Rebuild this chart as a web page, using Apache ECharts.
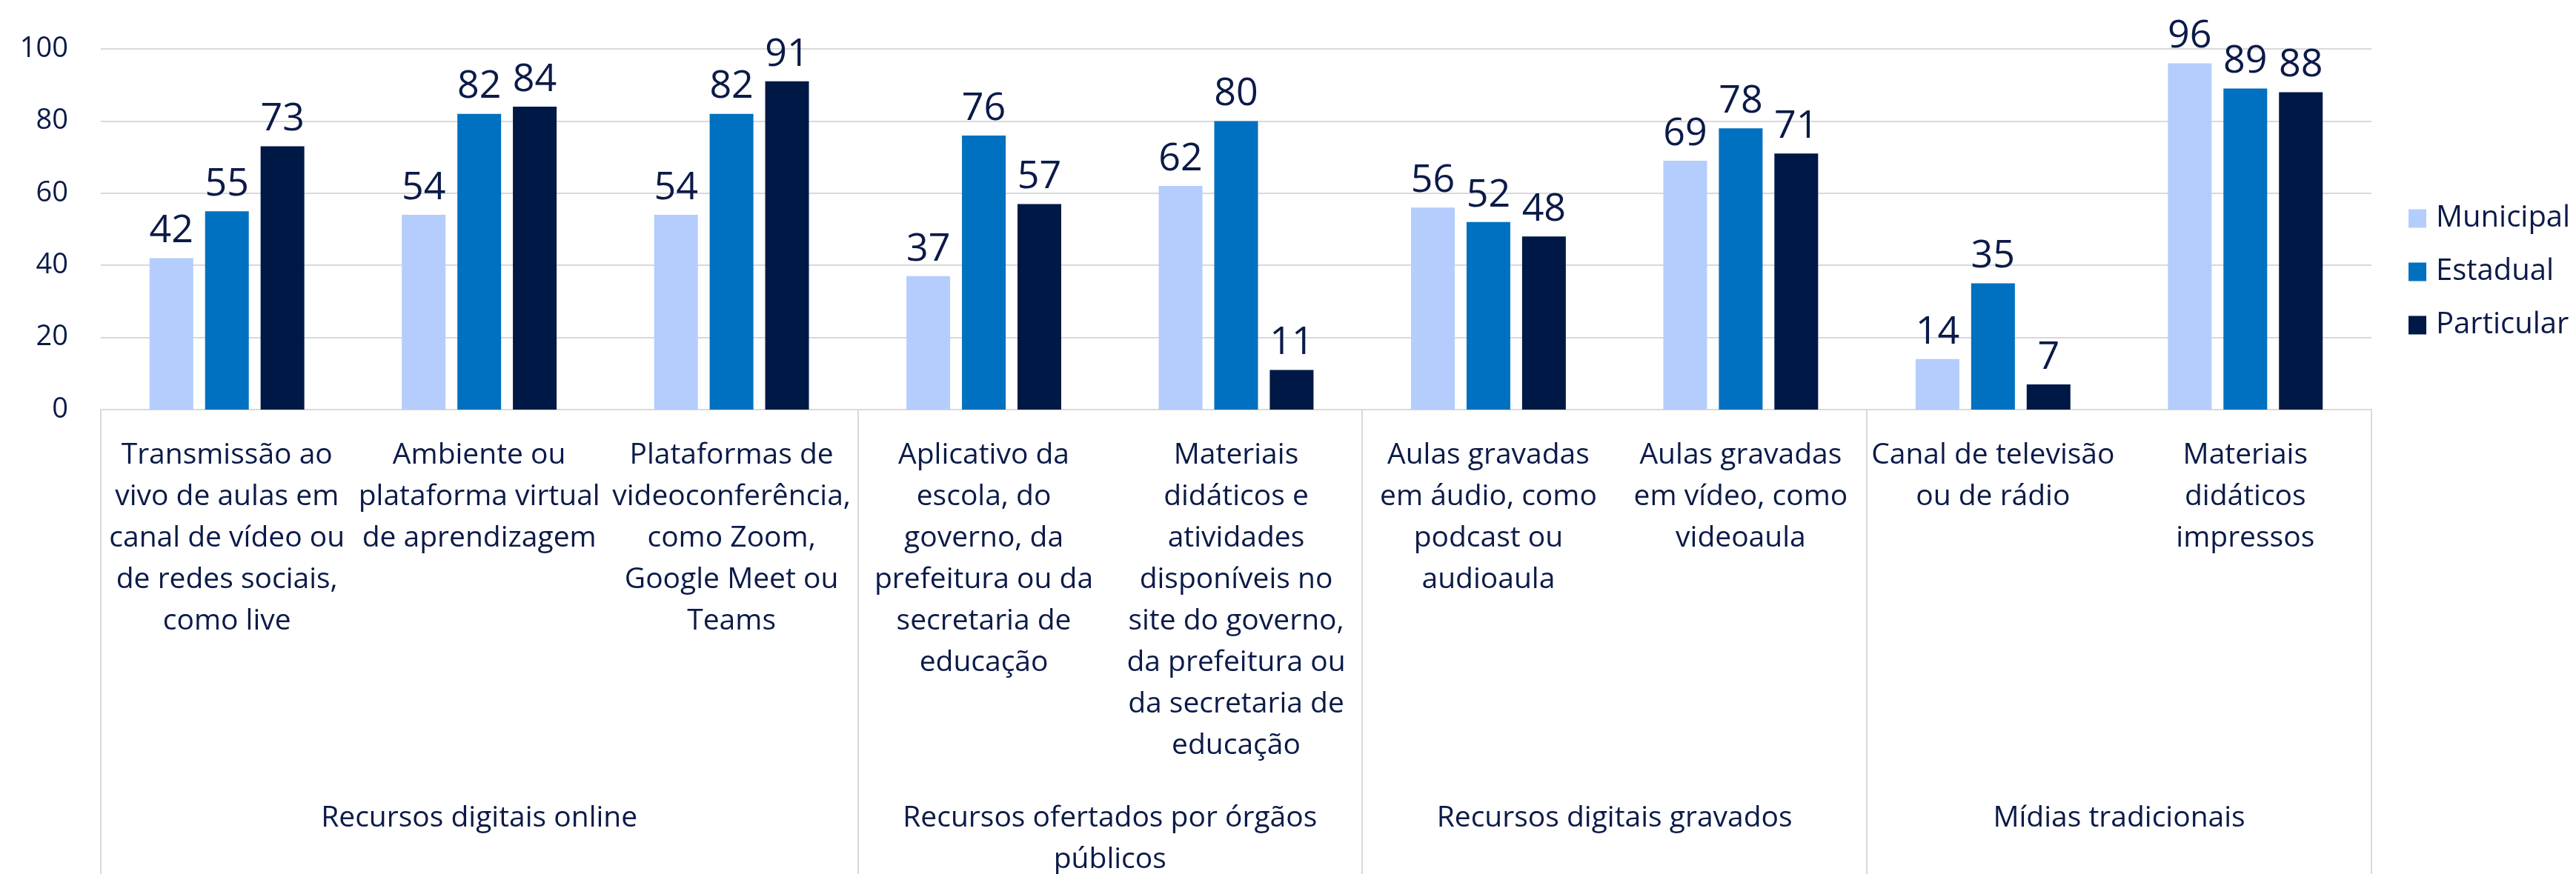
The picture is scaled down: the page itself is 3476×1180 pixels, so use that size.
<!DOCTYPE html>
<html>
<head>
<meta charset="utf-8">
<script src="https://cdn.jsdelivr.net/npm/echarts@6/dist/echarts.min.js"></script>
<style>
  html, body { margin: 0; padding: 0; background: #fff; }
  #chart { width: 3476px; height: 1180px; }
</style>
</head>
<body>
<div id="chart"></div>
<script>
// categorias (nível 1) e grupos (nível 2)
const categories = [
  "Transmissão ao\nvivo de aulas em\ncanal de vídeo ou\nde redes sociais,\ncomo live",
  "Ambiente ou\nplataforma virtual\nde aprendizagem",
  "Plataformas de\nvideoconferência,\ncomo Zoom,\nGoogle Meet ou\nTeams",
  "Aplicativo da\nescola, do\ngoverno, da\nprefeitura ou da\nsecretaria de\neducação",
  "Materiais\ndidáticos e\natividades\ndisponíveis no\nsite do governo,\nda prefeitura ou\nda secretaria de\neducação",
  "Aulas gravadas\nem áudio, como\npodcast ou\naudioaula",
  "Aulas gravadas\nem vídeo, como\nvideoaula",
  "Canal de televisão\nou de rádio",
  "Materiais\ndidáticos\nimpressos"
];
const groupNames = [
  "Recursos digitais online",
  "Recursos ofertados por órgãos\npúblicos",
  "Recursos digitais gravados",
  "Mídias tradicionais"
];
const groupSizes = [3, 2, 2, 2];

const municipal  = [42, 54, 54, 37, 62, 56, 69, 14, 96];
const estadual   = [55, 82, 82, 76, 80, 52, 78, 35, 89];
const particular = [73, 84, 91, 57, 11, 48, 71, 7, 88];

const yTicks = [0, 20, 40, 60, 80, 100];

// limites e centros dos grupos no eixo auxiliar (0..9)
const groupEdges = [0];
groupSizes.forEach(s => groupEdges.push(groupEdges[groupEdges.length - 1] + s));
const groupCenters = groupSizes.map((s, i) => groupEdges[i] + s / 2);

const textColor = "#0b1a48";
const gridColor = "#d9d9d9";
const font = "'Open Sans', 'Noto Sans', sans-serif";

const makeSeries = (name, data, color) => ({
  name: name,
  type: "bar",
  data: data,
  barWidth: 59,
  barGap: "27%",
  itemStyle: { color: color },
  label: {
    show: true,
    position: "top",
    distance: 10,
    color: textColor,
    fontSize: 52,
    fontFamily: font
  }
});

const chart = echarts.init(document.getElementById("chart"), null, { renderer: "canvas" });
chart.setOption({
  backgroundColor: "#ffffff",
  animation: false,
  textStyle: { fontFamily: font },
  grid: { left: 136, right: 276, top: 66, bottom: 627, outerBoundsMode: "none", containLabel: false },
  legend: {
    orient: "vertical",
    left: 3245,
    top: 270,
    itemWidth: 24,
    itemHeight: 25,
    itemGap: 32,
    icon: "rect",
    textStyle: { color: textColor, fontSize: 40, fontFamily: font, lineHeight: 40, padding: [0, 0, 0, 8] },
    data: ["Municipal", "Estadual", "Particular"]
  },
  xAxis: [
    {
      type: "category",
      data: categories,
      axisLine: { show: true, lineStyle: { color: gridColor, width: 2 } },
      axisTick: { show: false },
      axisLabel: {
        interval: 0,
        margin: 34,
        color: textColor,
        fontSize: 39,
        lineHeight: 56,
        verticalAlign: "top",
        fontFamily: font
      }
    },
    {
      type: "value",
      min: 0,
      max: 9,
      position: "bottom",
      axisLine: { show: false },
      splitLine: { show: false },
      axisTick: {
        show: true,
        customValues: groupEdges,
        length: 627,
        lineStyle: { color: gridColor, width: 2 }
      },
      axisLabel: {
        show: true,
        customValues: groupCenters,
        formatter: v => groupNames[groupCenters.indexOf(v)],
        margin: 524,
        color: textColor,
        fontSize: 39,
        lineHeight: 56,
        verticalAlign: "top",
        fontFamily: font
      }
    }
  ],
  yAxis: {
    type: "value",
    min: yTicks[0],
    max: yTicks[yTicks.length - 1],
    interval: 20,
    axisLine: { show: false },
    axisTick: { show: false },
    splitLine: { lineStyle: { color: gridColor, width: 2 } },
    axisLabel: { color: textColor, fontSize: 38, margin: 44, fontFamily: font }
  },
  series: [
    makeSeries("Municipal", municipal, "#b4cdfd"),
    makeSeries("Estadual", estadual, "#0070c0"),
    makeSeries("Particular", particular, "#001845")
  ]
});
window.addEventListener("resize", () => {
  chart.resize();
});
</script>
</body>
</html>
